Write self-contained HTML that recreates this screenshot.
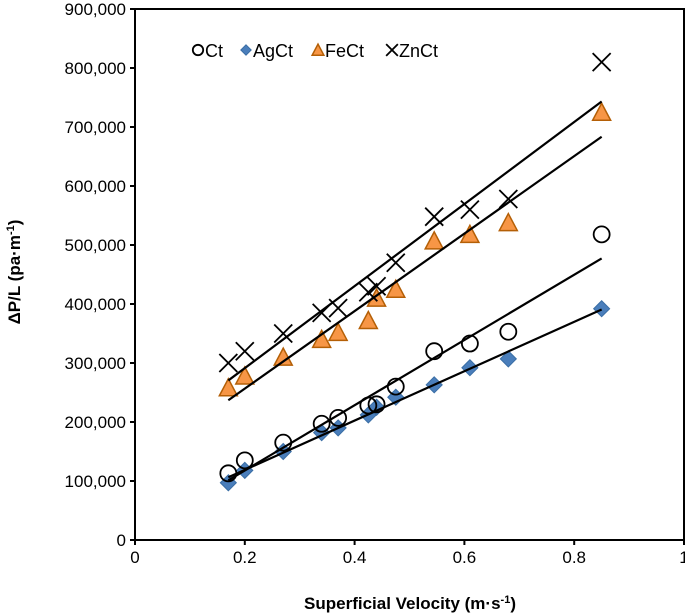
<!DOCTYPE html>
<html><head><meta charset="utf-8"><style>
body{margin:0;background:#fff;font-family:"Liberation Sans",Arial,sans-serif}
svg{display:block}
</style></head><body>
<svg id="c" width="685" height="615"></svg>
<script>
const xVals=[0.17,0.2,0.27,0.34,0.37,0.425,0.44,0.475,0.545,0.61,0.68,0.85];
const ctVals=[113000,135000,165000,197000,207000,228000,230000,260000,320000,333000,353000,518000];
const agVals=[97000,118000,150000,182000,190000,212000,225000,242000,263000,292000,307000,392000];
const feVals=[258000,278000,310000,340000,352000,372000,410000,425000,507000,518000,538000,725000];
const znVals=[300000,320000,350000,385000,393000,420000,430000,470000,548000,560000,578000,810000];
const xTicks=[0,0.2,0.4,0.6,0.8,1];
const xTickLabels=["0","0.2","0.4","0.6","0.8","1"];
const yTicks=[0,100000,200000,300000,400000,500000,600000,700000,800000,900000];
const yTickLabels=["0","100,000","200,000","300,000","400,000","500,000","600,000","700,000","800,000","900,000"];
const L=135,R=684,T=9,B=540;
const sx=v=>L+(R-L)*v, sy=v=>B-(B-T)*v/900000;
const svg=document.getElementById('c');const NS="http://www.w3.org/2000/svg";
function mk(t,a,p){const e=document.createElementNS(NS,t);for(const k in a)e.setAttribute(k,a[k]);(p||svg).appendChild(e);return e;}
let e=mk('rect',{x:L,y:T,width:R-L,height:B-T,fill:'none',stroke:'#000','stroke-width':2});


xTicks.forEach((v,i)=>{mk('line',{x1:sx(v),x2:sx(v),y1:B,y2:B+5,stroke:'#000','stroke-width':2});
 const t=mk('text',{x:sx(v),y:B+23,'text-anchor':'middle','font-size':17,fill:'#000'});t.textContent=xTickLabels[i];
 
 });
yTicks.forEach((v,i)=>{mk('line',{x1:L-5,x2:L,y1:sy(v),y2:sy(v),stroke:'#000','stroke-width':2});
 const t=mk('text',{x:L-9,y:sy(v)+6,'text-anchor':'end','font-size':17,fill:'#000'});t.textContent=yTickLabels[i];
 
 });
let xt=mk('text',{x:410,y:609,'text-anchor':'middle','font-size':17,'font-weight':'bold'});
xt.innerHTML='Superficial Velocity (m·s<tspan dy="-6" font-size="11">-1</tspan><tspan dy="6">)</tspan>';


let yt=mk('text',{x:0,y:0,'text-anchor':'middle','font-size':17,'font-weight':'bold',transform:'translate(20,272) rotate(-90)'});
yt.innerHTML='ΔP/L (pa·m<tspan dy="-6" font-size="11">-1</tspan><tspan dy="6">)</tspan>';


function fit(ys){const n=xVals.length;let mx=0,my=0;for(let i=0;i<n;i++){mx+=xVals[i];my+=ys[i];}mx/=n;my/=n;let a=0,b=0;for(let i=0;i<n;i++){a+=(xVals[i]-mx)*(ys[i]-my);b+=(xVals[i]-mx)**2;}const s=a/b;return [s,my-s*mx];}
function trend(ys,name){const [s,c]=fit(ys);const x0=xVals[0],x1=xVals[xVals.length-1];
 const l=mk('line',{x1:sx(x0),y1:sy(s*x0+c),x2:sx(x1),y2:sy(s*x1+c),stroke:'#000','stroke-width':2.2});
 
 }
function marker(type,x,y,g,k){k=k||1;
 if(type==='o')return mk('circle',{cx:x,cy:y,r:8*k,fill:'none',stroke:'#000','stroke-width':1.8},g);
 if(type==='d')return mk('polygon',{points:`${x},${y-8*k} ${x+8*k},${y} ${x},${y+8*k} ${x-8*k},${y}`,fill:'#4a7ebb',stroke:'#3a6ea5','stroke-width':1},g);
 if(type==='t')return mk('polygon',{points:`${x},${y-9*k} ${x+9*k},${y+8*k} ${x-9*k},${y+8*k}`,fill:'#f79646',stroke:'#b45f06','stroke-width':1.5},g);
 const gg=mk('g',{},g);mk('line',{x1:x-9*k,y1:y-9*k,x2:x+9*k,y2:y+9*k,stroke:'#000','stroke-width':1.8},gg);mk('line',{x1:x-9*k,y1:y+9*k,x2:x+9*k,y2:y-9*k,stroke:'#000','stroke-width':1.8},gg);return gg;}
function series(ys,type,name){const g=mk('g',{});
 
 ys.forEach((v,i)=>{const m=marker(type,sx(xVals[i]),sy(v),g);
  
  });}
series(agVals,'d','agct');series(ctVals,'o','ct');series(feVals,'t','fect');series(znVals,'x','znct');
trend(znVals,'znct-trendline');trend(feVals,'fect-trendline');trend(ctVals,'ct-trendline');trend(agVals,'agct-trendline');
const leg=[['o','Ct',198],['d','AgCt',246],['t','FeCt',318],['x','ZnCt',392]];
leg.forEach(([t,l,x])=>{const g=mk('g',{});
 
 marker(t,x,50,g,0.65);
 const tx=mk('text',{x:x+7,y:57,'font-size':18},g);tx.textContent=l;});
</script>
</body></html>
